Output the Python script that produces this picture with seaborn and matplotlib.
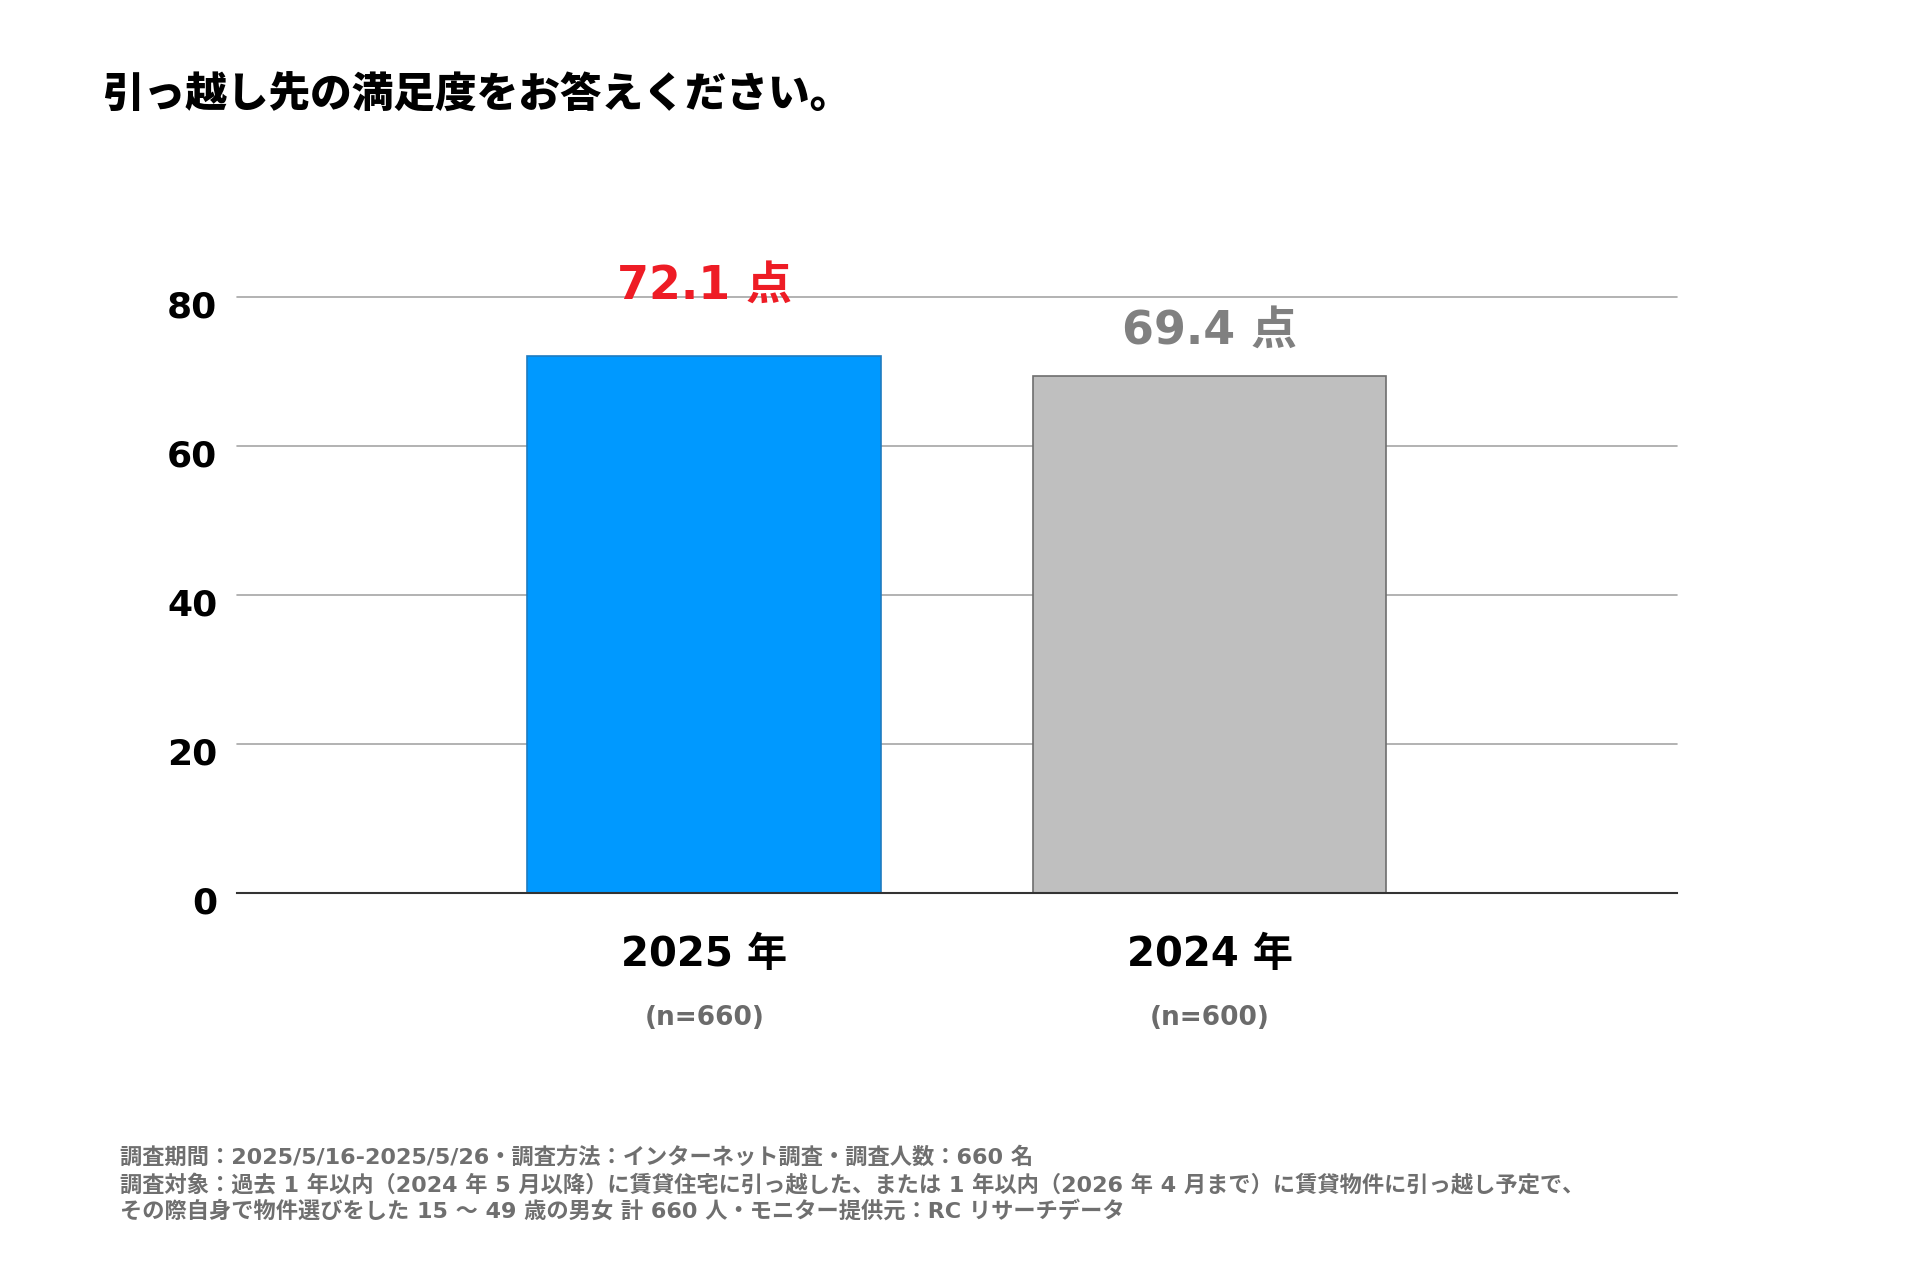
import matplotlib
matplotlib.use("Agg")
import matplotlib.pyplot as plt
import matplotlib.transforms as mtransforms
import pandas as pd
import seaborn as sns

# data
years = ["2025 年", "2024 年"]
scores = [72.1, 69.4]
samples = ["(n=660)", "(n=600)"]
value_labels = ["72.1 点", "69.4 点"]
yticks = [0, 20, 40, 60, 80]

title = "引っ越し先の満足度をお答えください。"
footer = [
    "調査期間：2025/5/16-2025/5/26・調査方法：インターネット調査・調査人数：660 名",
    "調査対象：過去 1 年以内（2024 年 5 月以降）に賃貸住宅に引っ越した、または 1 年以内（2026 年 4 月まで）に賃貸物件に引っ越し予定で、",
    "その際自身で物件選びをした 15 ～ 49 歳の男女 計 660 人・モニター提供元：RC リサーチデータ",
]

bar_colors = ["#0099FF", "#BFBFBF"]
edge_colors = ["#1F7CC0", "#6E6E6E"]
label_colors = ["#EE1C25", "#808080"]
label_offsets = [50, 32]  # points above bar top

sns.set_theme(style="white")
plt.rcParams["font.family"] = ["DejaVu Sans", "Noto Sans CJK JP"]

df = pd.DataFrame({"year": years, "score": scores})

fig = plt.figure(figsize=(19.2, 12.8), dpi=100)
ax = fig.add_axes([0.1234, 0.3023, 0.75, 0.4657])

sns.barplot(data=df, x="year", y="score", hue="year", palette=bar_colors,
            width=0.7, legend=False, ax=ax, saturation=1)

for patch, ec in zip(ax.patches, edge_colors):
    patch.set_edgecolor(ec)
    patch.set_linewidth(1.2)
    patch.set_zorder(3)

ax.set_xlim(-0.925, 1.925)
ax.set_ylim(0, 80)
ax.set_yticks(yticks)
ax.yaxis.grid(True, color="#A6A6A6", linewidth=1.2)
for gl in ax.get_ygridlines():
    gl.set_clip_on(False)
ax.set_axisbelow(True)
for side in ["top", "right", "left"]:
    ax.spines[side].set_visible(False)
ax.spines["bottom"].set_color("#333333")
ax.spines["bottom"].set_linewidth(1.5)
ax.spines["bottom"].set_zorder(4)

ax.set_xlabel("")
ax.set_ylabel("")
ax.tick_params(axis="y", length=0, pad=14, labelsize=26)
ax.tick_params(axis="x", length=0, pad=30, labelsize=29)
shift = mtransforms.ScaledTranslation(0, -5 / 72, fig.dpi_scale_trans)
for lbl in ax.get_yticklabels():
    lbl.set_transform(lbl.get_transform() + shift)
for lbl in ax.get_yticklabels() + ax.get_xticklabels():
    lbl.set_fontweight("bold")
    lbl.set_color("black")

# value labels
for i, (v, txt) in enumerate(zip(scores, value_labels)):
    ax.annotate(txt, xy=(i, v), xytext=(0, label_offsets[i]),
                textcoords="offset points", ha="center", va="center",
                fontsize=33, fontweight="bold", color=label_colors[i],
                annotation_clip=False)

# sample sizes below year labels
for i, s in enumerate(samples):
    ax.annotate(s, xy=(i, 0), xytext=(0, -90), textcoords="offset points",
                ha="center", va="center", fontsize=19, fontweight="bold",
                color="#6B6B6B", annotation_clip=False)

fig.text(0.053, 0.925, title, fontsize=30, fontweight="heavy",
         family=["Noto Sans CJK JP", "DejaVu Sans"], ha="left", va="center",
         color="black")

for k, line in enumerate(footer):
    fig.text(0.0625, 1 - (1157 + 27 * k) / 1280, line, fontsize=16,
             fontweight="bold", color="#6F6F6F", ha="left", va="center")

fig.savefig("out.png", dpi=100, facecolor="white")
